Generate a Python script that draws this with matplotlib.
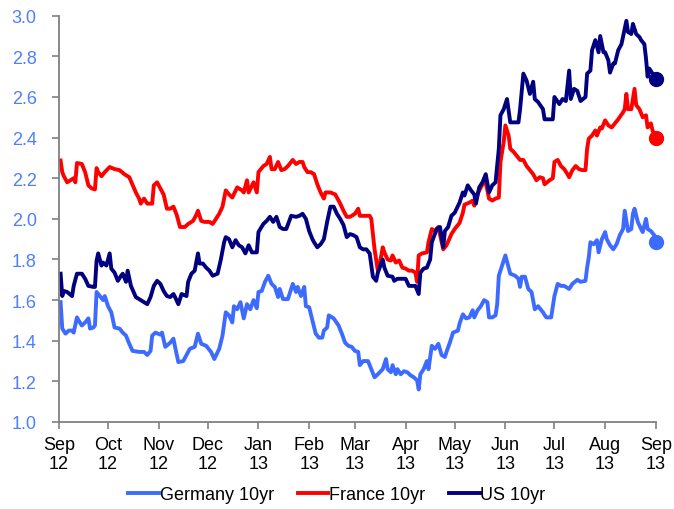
import pandas as pd
import matplotlib
matplotlib.use("Agg")
import matplotlib.pyplot as plt

plt.rcParams["font.family"] = ["Liberation Sans", "DejaVu Sans"]

# x positions are days since 1 Sep 2012
month_ticks = ["2012-09-01", "2012-10-01", "2012-11-01", "2012-12-01", "2013-01-01",
               "2013-02-01", "2013-03-01", "2013-04-01", "2013-05-01", "2013-06-01",
               "2013-07-01", "2013-08-01", "2013-09-01"]
month_labels = ["Sep\n12", "Oct\n12", "Nov\n12", "Dec\n12", "Jan\n13", "Feb\n13", "Mar\n13",
                "Apr\n13", "May\n13", "Jun\n13", "Jul\n13", "Aug\n13", "Sep\n13"]
y_ticks = [1.0, 1.2, 1.4, 1.6, 1.8, 2.0, 2.2, 2.4, 2.6, 2.8, 3.0]

germany_days = [1, 2, 4, 6, 8, 9, 11, 12, 14, 16, 18, 19, 21, 22, 23, 25, 27, 28, 30, 32, 34, 37, 39,
                41, 43, 45, 49, 52, 54, 56, 57, 59, 62, 63, 65, 68, 70, 71, 73, 76, 78, 80, 83, 85,
                87, 90, 93, 95, 98, 100, 102, 104, 106, 107, 109, 111, 113, 115, 117, 119, 121, 122,
                124, 126, 128, 130, 132, 134, 135, 137, 140, 143, 145, 146, 148, 150, 151, 153, 155,
                157, 159, 161, 162, 164, 165, 168, 171, 173, 175, 177, 179, 181, 183, 184, 186, 189,
                191, 193, 195, 198, 200, 201, 203, 204, 206, 207, 209, 211, 213, 215, 217, 219, 220,
                221, 223, 225, 226, 228, 230, 232, 234, 236, 237, 239, 241, 244, 245, 247, 249, 251,
                253, 254, 256, 258, 260, 262, 263, 265, 267, 268, 269, 271, 273, 275, 276, 279, 281,
                282, 283, 285, 287, 289, 291, 293, 296, 298, 301, 303, 305, 307, 309, 312, 314, 317,
                319, 322, 323, 324, 325, 327, 329, 330, 332, 334, 335, 337, 339, 341, 343, 345, 346,
                348, 350, 351, 352, 354, 356, 357, 359, 360, 362, 364, 365]
germany = [1.59, 1.46, 1.435, 1.45, 1.45, 1.44, 1.515, 1.50, 1.475, 1.49, 1.51, 1.46, 1.465, 1.475,
           1.64, 1.62, 1.60, 1.62, 1.57, 1.54, 1.465, 1.46, 1.44, 1.425, 1.385, 1.35, 1.345, 1.345,
           1.33, 1.35, 1.425, 1.44, 1.43, 1.44, 1.37, 1.39, 1.41, 1.37, 1.295, 1.30, 1.33, 1.36,
           1.37, 1.435, 1.385, 1.375, 1.345, 1.31, 1.36, 1.425, 1.54, 1.525, 1.49, 1.57, 1.555,
           1.59, 1.51, 1.58, 1.555, 1.60, 1.56, 1.64, 1.645, 1.69, 1.72, 1.68, 1.665, 1.615, 1.655,
           1.605, 1.605, 1.68, 1.64, 1.665, 1.62, 1.665, 1.57, 1.565, 1.50, 1.435, 1.415, 1.415,
           1.45, 1.465, 1.525, 1.51, 1.475, 1.435, 1.39, 1.375, 1.37, 1.35, 1.345, 1.28, 1.30, 1.30,
           1.26, 1.22, 1.235, 1.26, 1.31, 1.26, 1.245, 1.28, 1.235, 1.26, 1.235, 1.25, 1.245, 1.23,
           1.22, 1.205, 1.16, 1.235, 1.26, 1.30, 1.26, 1.375, 1.36, 1.385, 1.33, 1.32, 1.345, 1.39,
           1.44, 1.45, 1.485, 1.53, 1.51, 1.515, 1.55, 1.515, 1.55, 1.57, 1.60, 1.59, 1.515, 1.515,
           1.525, 1.58, 1.72, 1.77, 1.82, 1.76, 1.73, 1.72, 1.705, 1.665, 1.715, 1.715, 1.655, 1.64,
           1.555, 1.57, 1.54, 1.515, 1.515, 1.62, 1.68, 1.67, 1.67, 1.655, 1.68, 1.70, 1.69, 1.695,
           1.76, 1.81, 1.885, 1.875, 1.895, 1.835, 1.90, 1.935, 1.90, 1.87, 1.85, 1.875, 1.92, 1.95,
           2.04, 1.94, 1.95, 2.025, 2.05, 1.985, 1.95, 1.935, 2.00, 1.95, 1.94, 1.92, 1.885]

france_days = [1, 2, 3, 5, 7, 9, 10, 11, 14, 16, 18, 20, 22, 23, 24, 26, 28, 31, 34, 37, 40, 43, 47,
               49, 50, 52, 54, 57, 58, 60, 62, 64, 66, 68, 70, 72, 74, 77, 79, 82, 84, 85, 87, 89,
               92, 94, 98, 100, 102, 104, 106, 109, 112, 113, 115, 116, 119, 121, 122, 125, 127, 129,
               130, 132, 134, 136, 138, 140, 143, 145, 147, 149, 150, 152, 154, 156, 158, 160, 162,
               163, 166, 169, 172, 174, 176, 178, 181, 183, 184, 190, 191, 193, 195, 196, 198, 199,
               201, 203, 204, 206, 208, 210, 212, 214, 216, 218, 219, 220, 222, 225, 226, 228, 230,
               232, 235, 237, 240, 242, 245, 247, 248, 251, 253, 254, 255, 257, 259, 261, 263, 265,
               267, 269, 270, 272, 273, 275, 276, 278, 280, 282, 284, 286, 288, 290, 292, 294, 296,
               297, 300, 302, 303, 305, 307, 309, 311, 312, 314, 316, 318, 320, 322, 323, 324, 326,
               328, 329, 331, 332, 334, 336, 338, 340, 342, 345, 346, 347, 348, 350, 352, 353, 355,
               357, 359, 360, 362, 363, 365]
france = [2.287, 2.23, 2.21, 2.18, 2.19, 2.20, 2.18, 2.275, 2.27, 2.23, 2.165, 2.15, 2.145, 2.25,
          2.23, 2.21, 2.23, 2.255, 2.245, 2.24, 2.22, 2.205, 2.13, 2.10, 2.075, 2.10, 2.075, 2.075,
          2.165, 2.18, 2.15, 2.12, 2.05, 2.05, 2.06, 2.02, 1.96, 1.96, 1.975, 1.99, 2.02, 2.04, 1.99,
          1.985, 1.985, 1.975, 2.025, 2.06, 2.14, 2.12, 2.105, 2.155, 2.14, 2.13, 2.19, 2.13, 2.18,
          2.13, 2.23, 2.26, 2.27, 2.305, 2.245, 2.245, 2.28, 2.24, 2.245, 2.26, 2.29, 2.27, 2.28,
          2.28, 2.255, 2.23, 2.23, 2.22, 2.17, 2.13, 2.10, 2.13, 2.13, 2.12, 2.075, 2.04, 2.01, 2.01,
          2.025, 2.05, 2.015, 2.015, 2.00, 1.85, 1.745, 1.77, 1.86, 1.835, 1.80, 1.795, 1.82, 1.785,
          1.795, 1.76, 1.755, 1.745, 1.745, 1.735, 1.69, 1.82, 1.83, 1.835, 1.885, 1.95, 1.94, 1.96,
          1.85, 1.87, 1.925, 1.95, 1.98, 2.03, 2.07, 2.08, 2.09, 2.065, 2.105, 2.14, 2.17, 2.18,
          2.10, 2.09, 2.10, 2.105, 2.28, 2.38, 2.46, 2.41, 2.345, 2.33, 2.31, 2.29, 2.29, 2.26, 2.24,
          2.22, 2.19, 2.205, 2.20, 2.17, 2.19, 2.20, 2.28, 2.29, 2.26, 2.245, 2.22, 2.205, 2.24,
          2.26, 2.245, 2.24, 2.24, 2.345, 2.395, 2.41, 2.435, 2.41, 2.45, 2.445, 2.485, 2.46, 2.45,
          2.47, 2.49, 2.525, 2.54, 2.615, 2.54, 2.54, 2.64, 2.56, 2.54, 2.50, 2.51, 2.45, 2.47,
          2.435, 2.40]

us_days = [1, 2, 3, 5, 8, 9, 11, 14, 16, 18, 21, 22, 23, 24, 26, 27, 29, 31, 32, 34, 36, 38, 39, 41,
           42, 44, 47, 50, 52, 54, 56, 58, 60, 62, 64, 66, 68, 70, 71, 73, 75, 78, 79, 81, 83, 85,
           86, 88, 90, 92, 94, 97, 99, 101, 102, 104, 106, 108, 110, 112, 114, 116, 118, 121, 122,
           125, 127, 129, 131, 133, 135, 137, 139, 142, 145, 147, 149, 151, 153, 155, 156, 158, 160,
           162, 164, 166, 168, 170, 172, 174, 176, 178, 180, 182, 184, 186, 188, 190, 192, 194, 195,
           198, 199, 201, 204, 205, 207, 209, 212, 214, 216, 218, 220, 221, 223, 225, 227, 228, 231,
           233, 235, 236, 238, 240, 242, 245, 247, 248, 250, 252, 254, 255, 257, 259, 261, 263, 265,
           267, 269, 270, 272, 274, 276, 278, 281, 282, 284, 286, 288, 290, 291, 293, 296, 297, 300,
           302, 303, 306, 308, 310, 312, 313, 315, 317, 319, 322, 323, 325, 326, 328, 330, 331, 333,
           334, 336, 337, 339, 340, 342, 344, 347, 348, 350, 351, 353, 355, 356, 358, 359, 360, 361,
           363, 365]
us = [1.73, 1.62, 1.645, 1.64, 1.62, 1.67, 1.73, 1.73, 1.705, 1.67, 1.665, 1.665, 1.795, 1.83, 1.77,
      1.785, 1.77, 1.83, 1.755, 1.735, 1.695, 1.72, 1.73, 1.69, 1.745, 1.67, 1.615, 1.60, 1.59,
      1.58, 1.615, 1.67, 1.695, 1.68, 1.645, 1.62, 1.615, 1.63, 1.615, 1.58, 1.63, 1.62, 1.69,
      1.73, 1.745, 1.83, 1.78, 1.78, 1.76, 1.745, 1.72, 1.73, 1.80, 1.885, 1.91, 1.90, 1.86,
      1.895, 1.87, 1.86, 1.83, 1.87, 1.835, 1.835, 1.935, 1.975, 1.99, 2.01, 1.985, 2.01, 1.96,
      1.95, 1.95, 2.015, 2.01, 2.015, 2.025, 2.00, 1.94, 1.90, 1.885, 1.86, 1.875, 1.90, 1.985,
      2.06, 2.06, 2.025, 2.00, 1.97, 1.91, 1.925, 1.92, 1.91, 1.86, 1.85, 1.85, 1.83, 1.715,
      1.695, 1.735, 1.80, 1.76, 1.72, 1.715, 1.695, 1.705, 1.705, 1.705, 1.67, 1.67, 1.67, 1.63,
      1.735, 1.755, 1.76, 1.80, 1.885, 1.95, 1.96, 1.86, 1.94, 1.96, 2.015, 2.03, 2.08, 2.13,
      2.115, 2.165, 2.14, 2.12, 2.075, 2.155, 2.18, 2.22, 2.13, 2.165, 2.18, 2.345, 2.51, 2.54,
      2.59, 2.475, 2.475, 2.475, 2.54, 2.715, 2.68, 2.615, 2.675, 2.59, 2.575, 2.54, 2.49, 2.49,
      2.49, 2.60, 2.565, 2.59, 2.58, 2.73, 2.59, 2.64, 2.63, 2.58, 2.60, 2.715, 2.73, 2.83, 2.88,
      2.82, 2.90, 2.82, 2.82, 2.78, 2.72, 2.765, 2.765, 2.83, 2.86, 2.975, 2.92, 2.91, 2.96, 2.91,
      2.895, 2.88, 2.86, 2.79, 2.70, 2.74, 2.715, 2.69]

start = pd.Timestamp("2012-09-01")
tick_pos = [(pd.Timestamp(d) - start).days for d in month_ticks]

fig = plt.figure(figsize=(6.74, 5.10), dpi=100)
ax = fig.add_axes([0.0875, 0.1706, 0.8855, 0.7966])

series = [
    ("Germany 10yr", germany_days, germany, "#3D6BFF"),
    ("France 10yr", france_days, france, "#FF0000"),
    ("US 10yr", us_days, us, "#000080"),
]
for name, days, vals, col in series:
    ax.plot(days, vals, color=col, lw=2.8, label=name, solid_joinstyle="round", clip_on=False)
    ax.plot(days[-1], vals[-1], "o", color=col, ms=10, clip_on=False)

ax.set_xlim(0, 365)
ax.set_ylim(1.0, 3.0)
ax.set_xticks(tick_pos)
ax.set_xticklabels(month_labels, fontsize=13)
ax.set_yticks(y_ticks)
ax.set_yticklabels([f"{v:.1f}" for v in y_ticks], fontsize=13, color="#4F7FFF")

for s in ["top", "right"]:
    ax.spines[s].set_visible(False)
for s in ["left", "bottom"]:
    ax.spines[s].set_color("#808080")
    ax.spines[s].set_linewidth(1.3)
ax.tick_params(axis="y", length=5, width=1.2, color="#808080", pad=11)
ax.tick_params(axis="x", length=5, width=1.2, color="#808080", pad=5)

fig.legend(loc="lower center", bbox_to_anchor=(0.5, -0.02), ncol=3, frameon=False,
           fontsize=13, handlelength=1.7, handletextpad=0.05, columnspacing=1.3)

fig.savefig("out.png", dpi=100)
